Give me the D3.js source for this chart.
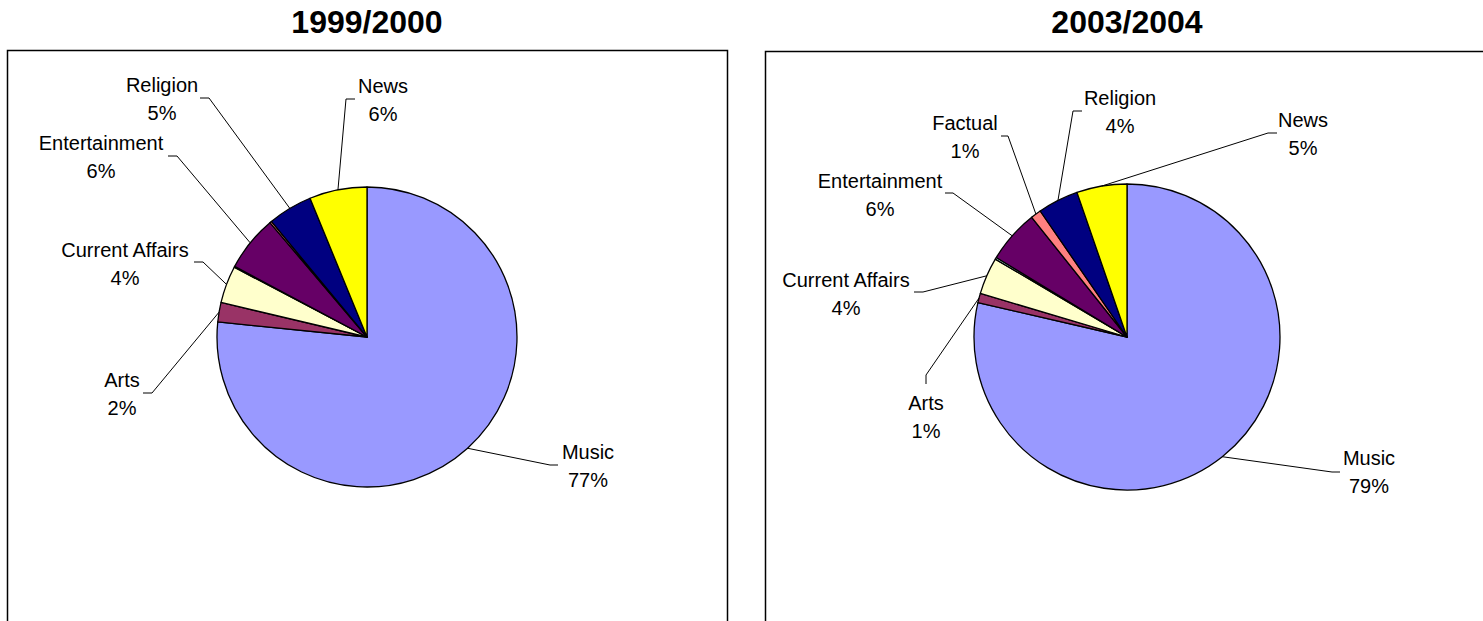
<!DOCTYPE html>
<html>
<head>
  <title>Programme genres 1999/2000 vs 2003/2004</title>
  <style>
    body { margin: 0; background: #fff; }
    svg { display: block; font-family: "Liberation Sans", Arial, sans-serif; }
    .title { font-size: 32px; font-weight: bold; }
    .lbl { font-size: 20px; }
  </style>
</head>
<body>
  <script src="https://d3js.org/d3.v7.min.js"></script>
  <script>
// categories in slice order (clockwise from 12 o'clock)
const categories = ["Music", "Arts", "Current Affairs", "Drama", "Entertainment", "Factual", "Religion", "News"];
const colors = ["#9999FF", "#993366", "#FFFFCC", "#CCFFFF", "#660066", "#FF8080", "#000080", "#FFFF00"];

const titles = ["1999/2000", "2003/2004"];
// share of output, %
const values1999 = [76.6, 2.1, 4.0, 0.1, 6.0, 0.2, 4.8, 6.2];
const values2003 = [78.6, 1.0, 3.9, 0.2, 5.6, 1.1, 4.3, 5.3];

const width = 1483, height = 621;

// layout: frame, pie centre, radius and hand-placed labels (offsets from the pie centre)
// lbl: [text x, text y, elbow start x, elbow start y, elbow end x, elbow end y]
const panels = [
  {
    title: titles[0], values: values1999,
    frame: { x: 7, y: 50, w: 720, h: 620 },
    cx: 367, cy: 337, r: 150,
    lbl: {
      "Music": [221, 115, 191, 128, 183, 128],
      "Arts": [-245, 43, -224, 56, -215, 56],
      "Current Affairs": [-242, -87, -173, -75, -164, -75],
      "Entertainment": [-266, -194, -199, -181, -190, -181],
      "Religion": [-205, -252, -167, -239, -158, -239],
      "News": [16, -251, -12, -238, -21, -238]
    }
  },
  {
    title: titles[1], values: values2003,
    frame: { x: 765, y: 51, w: 720, h: 620 },
    cx: 1127, cy: 337, r: 153,
    lbl: {
      "Music": [242, 121, 213, 135, 205, 135],
      "Arts": [-201, 66, -201, 47, -201, 38],
      "Current Affairs": [-281, -57, -213, -45, -204, -45],
      "Entertainment": [-247, -156, -182, -144, -174, -144],
      "Factual": [-162, -214, -126, -201, -119, -201],
      "Religion": [-7, -239, -45, -226, -54, -226],
      "News": [176, -217, 150, -204, 141, -204]
    }
  }
];

const svg = d3.select("body").append("svg")
  .attr("width", width)
  .attr("height", height);

const color = d3.scaleOrdinal().domain(categories).range(colors);

const pie = d3.pie().sort(null).value(d => d.value);

panels.forEach(p => {
  const data = categories.map((c, i) => ({ name: c, value: p.values[i] }));
  const total = d3.sum(data, d => d.value);
  const arcs = pie(data);

  // title
  svg.append("text")
    .attr("class", "title")
    .attr("x", p.cx)
    .attr("y", 33)
    .attr("text-anchor", "middle")
    .text(p.title);

  // plot frame
  svg.append("rect")
    .attr("x", p.frame.x + 0.5)
    .attr("y", p.frame.y + 0.5)
    .attr("width", p.frame.w)
    .attr("height", p.frame.h)
    .attr("fill", "none")
    .attr("stroke", "#000")
    .attr("stroke-width", 1.5);

  const g = svg.append("g")
    .attr("transform", `translate(${p.cx},${p.cy})`);

  const arc = d3.arc().innerRadius(0).outerRadius(p.r);
  const edge = d3.arc().innerRadius(p.r).outerRadius(p.r);

  g.selectAll("path.slice")
    .data(arcs)
    .enter()
    .append("path")
    .attr("class", "slice")
    .attr("d", arc)
    .attr("fill", d => color(d.data.name))
    .attr("stroke", "#000")
    .attr("stroke-width", 1.3)
    .attr("stroke-linejoin", "round");

  // labels with leader lines
  const labelled = arcs.filter(d => p.lbl[d.data.name]);

  g.selectAll("path.leader")
    .data(labelled)
    .enter()
    .append("path")
    .attr("class", "leader")
    .attr("fill", "none")
    .attr("stroke", "#000")
    .attr("stroke-width", 1)
    .attr("d", d => {
      const L = p.lbl[d.data.name];
      const e = edge.centroid(d);
      return d3.line()([[L[2], L[3]], [L[4], L[5]], e]);
    });

  const t = g.selectAll("text.lbl")
    .data(labelled)
    .enter()
    .append("text")
    .attr("class", "lbl")
    .attr("text-anchor", "middle");

  t.append("tspan")
    .attr("x", d => p.lbl[d.data.name][0])
    .attr("y", d => p.lbl[d.data.name][1] + 7)
    .text(d => d.data.name);

  t.append("tspan")
    .attr("x", d => p.lbl[d.data.name][0])
    .attr("y", d => p.lbl[d.data.name][1] + 35)
    .text(d => Math.round(d.data.value / total * 100) + "%");
});
  </script>
</body>
</html>
